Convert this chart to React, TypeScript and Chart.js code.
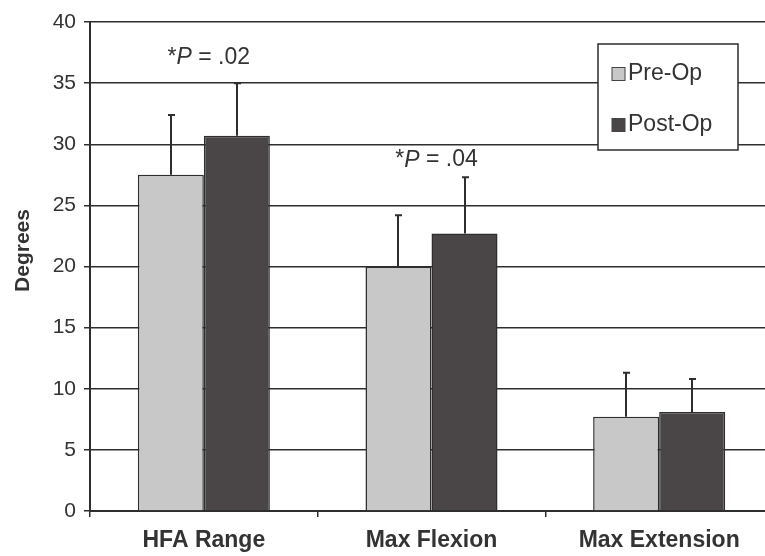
import React, { useEffect, useRef } from "react";
import { Chart, registerables } from "chart.js";

Chart.register(...registerables);

const categories = ["HFA Range", "Max Flexion", "Max Extension"];
const seriesNames = ["Pre-Op", "Post-Op"];
const preOp = [27.5, 20.0, 7.7];
const postOp = [30.7, 22.7, 8.1];
const preOpSD = [4.9, 4.2, 3.6];
const postOpSD = [4.3, 4.6, 2.7];
const yTicks = [0, 5, 10, 15, 20, 25, 30, 35, 40];
const yTitle = "Degrees";
const annotationLabels = ["*P = .02", "*P = .04", ""];
const annotationLevels = [37.1, 28.7, 0];

const FONT = '"Liberation Sans", Arial, Helvetica, sans-serif';
const errors = [preOpSD, postOpSD];

const errorBarPlugin = {
  id: "errorBars",
  afterDatasetsDraw(chart: any) {
    const ctx = chart.ctx;
    const yScale = chart.scales.y;
    ctx.save();
    ctx.strokeStyle = "#2e2e2e";
    ctx.lineWidth = 2;
    chart.data.datasets.forEach((ds: any, di: number) => {
      const meta = chart.getDatasetMeta(di);
      meta.data.forEach((bar: any, i: number) => {
        const v = ds.data[i];
        const e = errors[di][i];
        const top = yScale.getPixelForValue(v + e);
        const x = Math.round(bar.x);
        ctx.beginPath();
        ctx.moveTo(x, bar.y);
        ctx.lineTo(x, top);
        ctx.moveTo(x - 3, top);
        ctx.lineTo(x + 4, top);
        ctx.stroke();
      });
    });
    ctx.restore();
  },
};

const annotationPlugin = {
  id: "pAnnotations",
  afterDraw(chart: any) {
    const ctx = chart.ctx;
    const xScale = chart.scales.x;
    const yScale = chart.scales.y;
    ctx.save();
    ctx.fillStyle = "#333";
    ctx.textBaseline = "middle";
    annotationLabels.forEach((label, i) => {
      if (!label) return;
      const cx = xScale.getPixelForValue(i) + 5;
      const cy = yScale.getPixelForValue(annotationLevels[i]);
      const parts = [
        { t: label.slice(0, 1), f: `23px ${FONT}` },
        { t: label.slice(1, 2), f: `italic 23px ${FONT}` },
        { t: label.slice(2), f: `23px ${FONT}` },
      ];
      let total = 0;
      parts.forEach((p) => {
        ctx.font = p.f;
        total += ctx.measureText(p.t).width;
      });
      let x = cx - total / 2;
      ctx.textAlign = "left";
      parts.forEach((p) => {
        ctx.font = p.f;
        ctx.fillText(p.t, x, cy);
        x += ctx.measureText(p.t).width;
      });
    });
    // y-axis title
    const area = chart.chartArea;
    ctx.save();
    ctx.translate(23, (area.top + area.bottom) / 2 - 16);
    ctx.rotate(-Math.PI / 2);
    ctx.textAlign = "center";
    ctx.textBaseline = "middle";
    ctx.font = `bold 21px ${FONT}`;
    ctx.fillStyle = "#333";
    ctx.fillText(yTitle, 0, 0);
    ctx.restore();
    ctx.restore();
  },
};

const legendPlugin = {
  id: "boxLegend",
  afterDraw(chart: any) {
    const ctx = chart.ctx;
    const area = chart.chartArea;
    const bx = area.right - 175;
    const by = area.top + 22;
    const bw = 140;
    const bh = 106;
    ctx.save();
    ctx.fillStyle = "#ffffff";
    ctx.fillRect(bx, by, bw, bh);
    ctx.strokeStyle = "#2e2e2e";
    ctx.lineWidth = 1.5;
    ctx.strokeRect(bx, by, bw, bh);
    ctx.font = `23px ${FONT}`;
    ctx.textBaseline = "middle";
    ctx.textAlign = "left";
    chart.data.datasets.forEach((ds: any, i: number) => {
      const cy = by + 30 + i * 51;
      ctx.fillStyle = ds.backgroundColor;
      ctx.fillRect(bx + 14, cy - 6.5, 13, 13);
      ctx.strokeStyle = "#444";
      ctx.lineWidth = 1;
      ctx.strokeRect(bx + 14, cy - 6.5, 13, 13);
      ctx.fillStyle = "#333";
      ctx.fillText(ds.label, bx + 30, cy);
    });
    ctx.restore();
  },
};

export default function App() {
  const canvasRef = useRef<HTMLCanvasElement | null>(null);

  useEffect(() => {
    if (!canvasRef.current) return;
    const chart = new Chart(canvasRef.current, {
      type: "bar",
      data: {
        labels: categories,
        datasets: [
          {
            label: seriesNames[0],
            data: preOp,
            backgroundColor: "#c8c8c8",
            borderColor: "#2e2e2e",
            borderWidth: 1.5,
            categoryPercentage: 0.58,
            barPercentage: 1,
          },
          {
            label: seriesNames[1],
            data: postOp,
            backgroundColor: "#4a4547",
            borderColor: "#2e2e2e",
            borderWidth: 1.5,
            categoryPercentage: 0.58,
            barPercentage: 1,
          },
        ],
      },
      options: {
        animation: false,
        responsive: true,
        maintainAspectRatio: false,
        layout: { padding: { top: 22, right: 7, bottom: 0, left: 0 } },
        plugins: {
          legend: { display: false },
          tooltip: { enabled: false },
          title: { display: false },
        },
        scales: {
          x: {
            grid: {
              display: true,
              drawOnChartArea: false,
              drawTicks: true,
              tickLength: 6,
              offset: true,
              color: "#2e2e2e",
              lineWidth: 1.5,
            },
            border: { display: true, color: "#2e2e2e", width: 2 },
            ticks: {
              color: "#333",
              padding: 10,
              font: { family: FONT, size: 23, weight: "bold" },
            },
            afterFit: (scale: any) => {
              scale.height = 45;
            },
          },
          y: {
            min: 0,
            max: 40,
            afterBuildTicks: (scale: any) => {
              scale.ticks = yTicks.map((v) => ({ value: v }));
            },
            grid: {
              color: "#2e2e2e",
              lineWidth: 1.5,
              tickLength: 6,
            },
            border: { display: true, color: "#2e2e2e", width: 2 },
            ticks: {
              color: "#333",
              padding: 8,
              font: { family: FONT, size: 21 },
            },
            afterFit: (scale: any) => {
              scale.width = 90;
            },
          },
        },
      },
      plugins: [errorBarPlugin, legendPlugin, annotationPlugin],
    });
    return () => chart.destroy();
  }, []);

  return (
    <div
      style={{
        position: "fixed",
        left: 0,
        top: 0,
        width: 765,
        height: 556,
        overflow: "hidden",
        background: "#fff",
      }}
    >
      <div style={{ position: "relative", width: 780, height: 556 }}>
        <canvas ref={canvasRef} />
      </div>
    </div>
  );
}
